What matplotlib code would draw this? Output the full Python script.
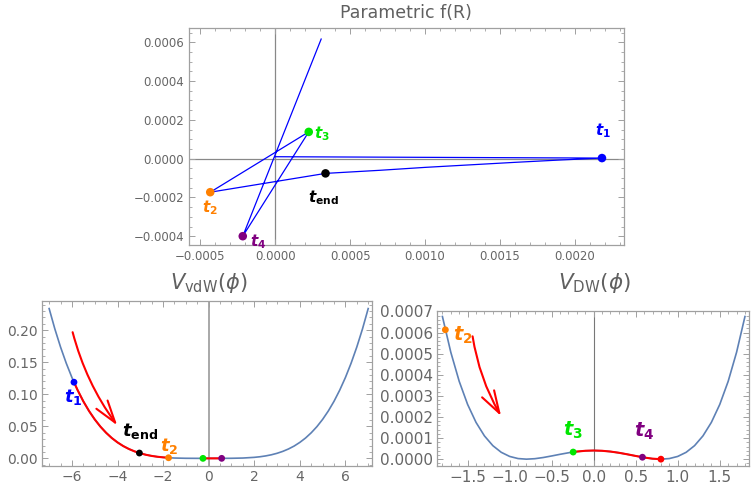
import matplotlib
matplotlib.use("Agg")
import matplotlib.pyplot as plt
from matplotlib.patches import FancyArrowPatch
from matplotlib.ticker import MultipleLocator, FuncFormatter

plt.rcParams["mathtext.fontset"] = "custom"
plt.rcParams["mathtext.rm"] = "DejaVu Sans"
plt.rcParams["mathtext.it"] = "DejaVu Sans:italic"
plt.rcParams["mathtext.bf"] = "DejaVu Sans:bold"
plt.rcParams["mathtext.sf"] = "DejaVu Sans:italic:bold"

# --- parametric f(R) trajectory
fR_x = [0.0, 0.00218, 0.0019, 0.0016, 0.0013, 0.0010, 0.0007, 0.000336,
        -0.000433, 0.000224, -0.000216, 0.000307]
fR_y = [0.00001, 0.000003, -0.000007, -0.000019, -0.000032, -0.000045, -0.00006, -0.000076,
        -0.000173, 0.000138, -0.0004, 0.000617]
fR_pts_x = [0.00218, -0.000433, 0.000224, -0.000216, 0.000336]
fR_pts_y = [0.000003, -0.000173, 0.000138, -0.0004, -0.000076]
fR_labels = ["1", "2", "3", "4", "end"]
fR_lab_x = [0.00219, -0.000433, 0.000315, -0.000112, 0.000322]
fR_lab_y = [0.000145, -0.000255, 0.000128, -0.000428, -0.0002]

# --- V_vdW(phi)
vdw_phi = [-7.0, -6.75, -6.5, -6.25, -6.0, -5.75, -5.5, -5.25, -5.0, -4.75, -4.5, -4.25,
           -4.0, -3.75, -3.5, -3.25, -3.0, -2.75, -2.5, -2.25, -2.0, -1.5, -1.0, -0.5,
           0.0, 0.5, 1.0, 1.5, 2.0, 2.25, 2.5, 2.75, 3.0, 3.25, 3.5, 3.75, 4.0, 4.25,
           4.5, 4.75, 5.0, 5.25, 5.5, 5.75, 6.0, 6.25, 6.5, 6.75, 7.0]
vdw_V = [0.2337, 0.2020, 0.1737, 0.1485, 0.1261, 0.1064, 0.0890, 0.0739, 0.0608, 0.0495,
         0.0399, 0.0317, 0.0249, 0.0192, 0.0146, 0.01086, 0.00788, 0.00556, 0.0038,
         0.00249, 0.00156, 0.00049, 0.0001, 0.000006,
         0.0, 0.000006, 0.0001, 0.00049, 0.00156, 0.00249, 0.0038, 0.00556, 0.00788,
         0.01086, 0.0146, 0.0192, 0.0249, 0.0317, 0.0399, 0.0495, 0.0608, 0.0739,
         0.0890, 0.1064, 0.1261, 0.1485, 0.1737, 0.2020, 0.2337]
vdw_red1_phi = [-5.91, -5.75, -5.5, -5.25, -5.0, -4.75, -4.5, -4.25, -4.0, -3.75, -3.5,
                -3.25, -3.0, -2.75, -2.5, -2.25, -2.0, -1.76]
vdw_red1_V = [0.1188, 0.1064, 0.0890, 0.0739, 0.0608, 0.0495, 0.0399, 0.0317, 0.0249,
              0.0192, 0.0146, 0.01086, 0.00788, 0.00556, 0.0038, 0.00249, 0.00156, 0.00093]
vdw_red2_phi = [-0.25, 0.0, 0.25, 0.57]
vdw_red2_V = [0.0, 0.0, 0.0, 0.00001]
vdw_pts_phi = [-5.91, -3.04, -1.76, -0.25, 0.57]
vdw_pts_V = [0.1188, 0.0083, 0.00093, 0.0, 0.00001]
vdw_pts_c = ["#0000ff", "black", "#ff8000", "#00e600", "#800080"]
vdw_labels = ["1", "end", "2"]
vdw_lab_phi = [-5.95, -3.0, -1.72]
vdw_lab_V = [0.095, 0.042, 0.019]

# --- V_DW(phi)
dw_phi = [-1.8, -1.7, -1.6, -1.5, -1.4, -1.3, -1.2, -1.1, -1.0, -0.9, -0.8, -0.7, -0.6, -0.5,
          -0.4, -0.3, -0.2, -0.1, 0.0, 0.1, 0.2, 0.3, 0.4, 0.5, 0.6, 0.7, 0.8, 0.9, 1.0,
          1.1, 1.2, 1.3, 1.4, 1.5, 1.6, 1.7, 1.8]
dw_V = [6.76e-4, 5.063e-4, 3.686e-4, 2.592e-4, 1.742e-4, 1.1025e-4, 6.4e-5, 3.249e-5,
        1.296e-5, 2.89e-6, 0.0, 2.25e-6, 7.84e-6, 1.521e-5, 2.304e-5, 3.025e-5, 3.6e-5,
        3.969e-5, 4.096e-5, 3.969e-5, 3.6e-5, 3.025e-5, 2.304e-5, 1.521e-5, 7.84e-6,
        2.25e-6, 0.0, 2.89e-6, 1.296e-5, 3.249e-5, 6.4e-5, 1.1025e-4, 1.742e-4, 2.592e-4,
        3.686e-4, 5.063e-4, 6.76e-4]
dw_red_phi = [-0.244, -0.2, -0.1, 0.0, 0.1, 0.2, 0.3, 0.4, 0.5, 0.6, 0.7, 0.8]
dw_red_V = [3.37e-5, 3.6e-5, 3.969e-5, 4.096e-5, 3.969e-5, 3.6e-5, 3.025e-5, 2.304e-5,
            1.521e-5, 7.84e-6, 2.25e-6, 0.0]
dw_pts_phi = [-1.765, -0.244, 0.58, 0.8]
dw_pts_V = [6.13e-4, 3.37e-5, 9.2e-6, 0.0]
dw_pts_c = ["#ff8000", "#00e600", "#800080", "#ff0000"]
dw_labels = ["2", "3", "4"]
dw_lab_phi = [-1.56, -0.25, 0.6]
dw_lab_V = [5.85e-4, 1.37e-4, 1.3e-4]

fR_colors = ["#0000ff", "#ff8000", "#00e600", "#800080", "black"]
dw_lab_c = ["#ff8000", "#00e600", "#800080"]

W, H = 752, 488
fig = plt.figure(figsize=(W / 100, H / 100), dpi=100)


def box(l, t, r, b):
    return [l / W, 1 - b / H, (r - l) / W, (b - t) / H]


FRAME = "#a0a0a0"
TXT = "#666666"
CURVE = "#5e81b5"


def style(ax, fmt, size):
    for s in ax.spines.values():
        s.set_color(FRAME)
        s.set_linewidth(0.9)
    ax.tick_params(which="both", direction="in", top=True, right=True,
                   colors=FRAME, labelcolor=TXT, labelsize=size, pad=3)
    ax.tick_params(which="major", length=4, width=0.7)
    ax.tick_params(which="minor", length=2.2, width=0.6)
    ax.xaxis.set_major_formatter(FuncFormatter(lambda v, p: fmt[0].format(v).replace("-", "\u2212")))
    ax.yaxis.set_major_formatter(FuncFormatter(lambda v, p: fmt[1].format(v).replace("-", "\u2212")))


def tlab(s):
    return r"$\mathsf{t}_{\mathbf{" + s + "}}$"


ARROW = "->,head_length=0.8,head_width=0.25"

# top panel
ax = fig.add_axes(box(188.5, 28, 624, 245.5))
ax.axhline(0, color="#888888", lw=0.9, zorder=1)
ax.axvline(0, color="#888888", lw=0.9, zorder=1)
ax.plot(fR_x, fR_y, color="#0000ff", lw=0.9, zorder=2)
ax.scatter(fR_pts_x, fR_pts_y, c=fR_colors, s=38, zorder=3, linewidths=0)
for lab, x, y, c in zip(fR_labels, fR_lab_x, fR_lab_y, fR_colors):
    ax.text(x, y, tlab(lab), color=c, fontsize=11, ha="center", va="center")
ax.set_xlim(-0.000578, 0.002327)
ax.set_ylim(-0.000448, 0.000674)
ax.xaxis.set_major_locator(MultipleLocator(0.0005))
ax.xaxis.set_minor_locator(MultipleLocator(0.0001))
ax.yaxis.set_major_locator(MultipleLocator(0.0002))
ax.yaxis.set_minor_locator(MultipleLocator(0.00005))
style(ax, ("{:.4f}", "{:.4f}"), 8.5)
fig.text(406 / W, 1 - 13 / H, "Parametric f(R)", color="#606060", fontsize=12.5,
         ha="center", va="center")

# bottom left panel
ax = fig.add_axes(box(42.3, 301, 372.3, 466.3))
ax.axvline(0, color="#999999", lw=1.2, zorder=1)
ax.plot(vdw_phi, vdw_V, color=CURVE, lw=1.2, zorder=2)
ax.plot(vdw_red1_phi, vdw_red1_V, color="red", lw=1.5, zorder=3)
ax.plot(vdw_red2_phi, vdw_red2_V, color="red", lw=1.5, zorder=3)
ax.scatter(vdw_pts_phi, vdw_pts_V, c=vdw_pts_c, s=24, zorder=4, linewidths=0)
for lab, x, y, c in zip(vdw_labels, vdw_lab_phi, vdw_lab_V, vdw_pts_c[:3]):
    ax.text(x, y, tlab(lab), color=c, fontsize=13, ha="center", va="center")
ax.add_patch(FancyArrowPatch((-6.0, 0.201), (-3.94, 0.048), connectionstyle="arc3,rad=0.1",
                             arrowstyle=ARROW, mutation_scale=20,
                             color="red", lw=1.5, zorder=5))
ax.set_xlim(-7.3, 7.18)
ax.set_ylim(-0.0124, 0.2455)
ax.xaxis.set_major_locator(MultipleLocator(2))
ax.xaxis.set_minor_locator(MultipleLocator(0.5))
ax.yaxis.set_major_locator(MultipleLocator(0.05))
ax.yaxis.set_minor_locator(MultipleLocator(0.01))
style(ax, ("{:.0f}", "{:.2f}"), 10)
fig.text(209 / W, 1 - 283 / H, r"$V_{\mathrm{vdW}}(\phi)$", color="#606060", fontsize=15,
         ha="center", va="center")

# bottom right panel
ax = fig.add_axes(box(437.2, 311, 748.5, 465.5))
ax.axvline(0, color="#777777", lw=0.8, zorder=1)
ax.plot(dw_phi, dw_V, color=CURVE, lw=1.2, zorder=2)
ax.plot(dw_red_phi, dw_red_V, color="red", lw=1.5, zorder=3)
ax.scatter(dw_pts_phi, dw_pts_V, c=dw_pts_c, s=24, zorder=4, linewidths=0)
for lab, x, y, c in zip(dw_labels, dw_lab_phi, dw_lab_V, dw_lab_c):
    ax.text(x, y, tlab(lab), color=c, fontsize=14, ha="center", va="center")
ax.add_patch(FancyArrowPatch((-1.446, 0.000595), (-1.085, 0.000193), connectionstyle="arc3,rad=0.1",
                             arrowstyle=ARROW, mutation_scale=20,
                             color="red", lw=1.5, zorder=5))
ax.set_xlim(-1.862, 1.842)
ax.set_ylim(-0.00003, 0.000702)
ax.xaxis.set_major_locator(MultipleLocator(0.5))
ax.xaxis.set_minor_locator(MultipleLocator(0.1))
ax.yaxis.set_major_locator(MultipleLocator(0.0001))
ax.yaxis.set_minor_locator(MultipleLocator(0.00002))
style(ax, ("{:.1f}", "{:.4f}"), 11)
fig.text(594 / W, 1 - 283 / H, r"$V_{\mathrm{DW}}(\phi)$", color="#606060", fontsize=15.5,
         ha="center", va="center")

fig.savefig("out.png", dpi=100)
